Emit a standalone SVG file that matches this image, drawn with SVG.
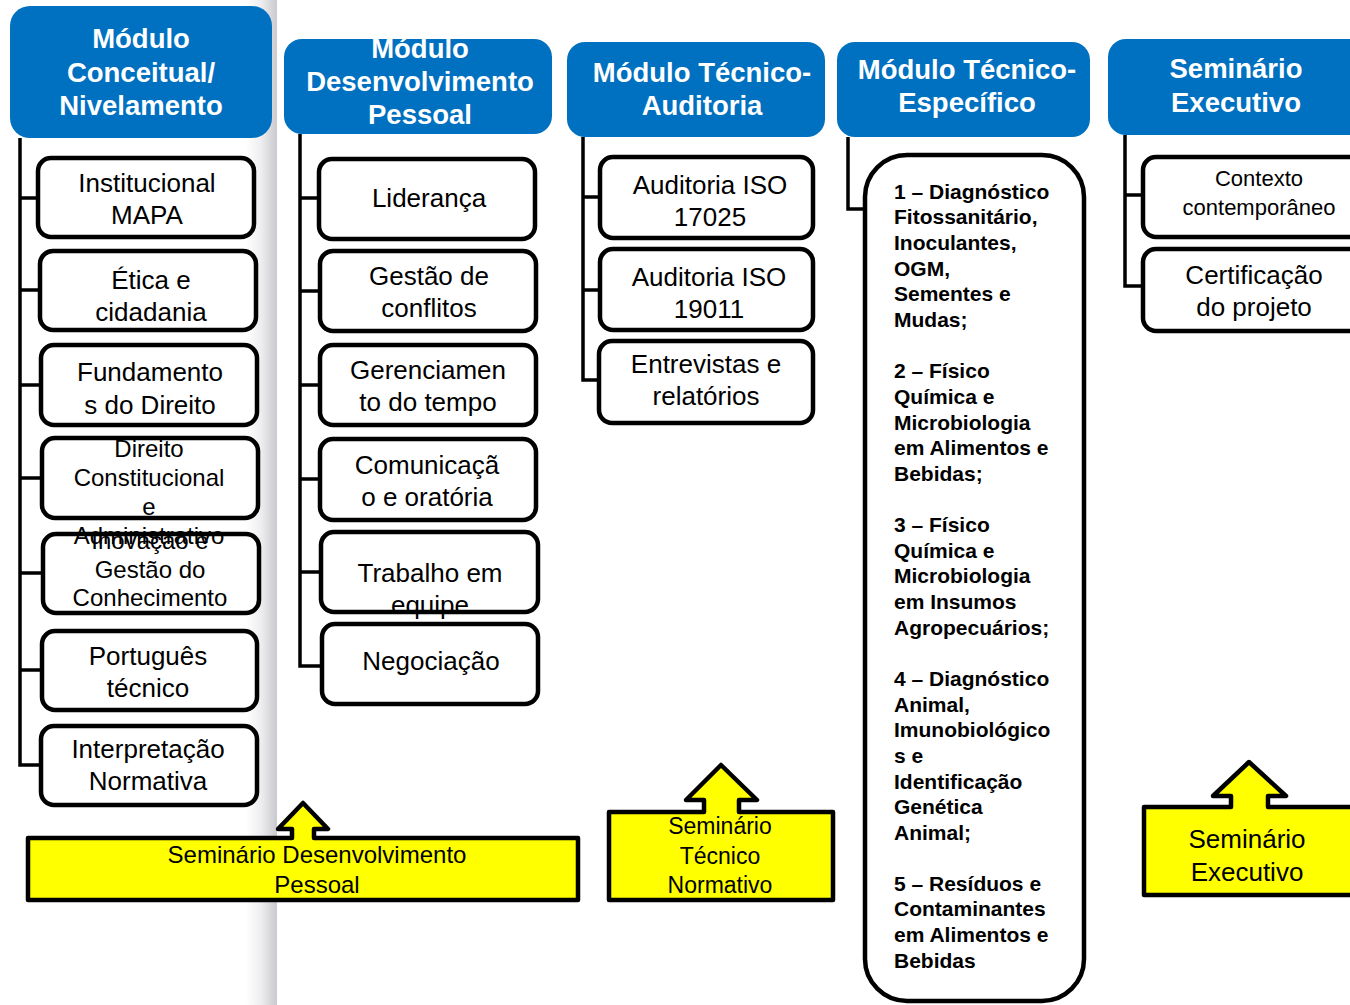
<svg xmlns="http://www.w3.org/2000/svg" width="1350" height="1005" viewBox="0 0 1350 1005">
<defs>
<linearGradient id="strip" x1="0" y1="0" x2="1" y2="0">
<stop offset="0" stop-color="#ffffff"/>
<stop offset="0.5" stop-color="#ededef"/>
<stop offset="1" stop-color="#c9c9ce"/>
</linearGradient>
<style>
.hdr{fill:#0070C0;}
.ht{fill:#ffffff;font-family:"Liberation Sans",Arial,sans-serif;font-weight:bold;font-size:27.5px;text-anchor:middle;}
.box{fill:#ffffff;stroke:#000000;stroke-width:4.5;}
.t{fill:#000000;font-family:"Liberation Sans",Arial,sans-serif;font-size:26px;text-anchor:middle;}
.ts{font-size:24px;}
.tx{font-size:22px;}
.bt{fill:#000000;font-family:"Liberation Sans",Arial,sans-serif;font-weight:bold;font-size:21px;}
.con{fill:none;stroke:#000000;stroke-width:3.5;}
.call{fill:#FFFF00;stroke:#000000;stroke-width:4.5;stroke-linejoin:round;}
.ct{fill:#000000;font-family:"Liberation Sans",Arial,sans-serif;font-size:24px;text-anchor:middle;}
</style>
</defs>
<rect x="0" y="0" width="1350" height="1005" fill="#ffffff"/>
<rect x="246" y="0" width="31" height="1005" fill="url(#strip)"/>

<g id="connectors">
<path class="con" d="M20,138 V765 H41 M20,198 H38 M20,290 H40 M20,385 H41 M20,478 H42 M20,573 H43 M20,670 H42"/>
<path class="con" d="M300,134 V666 H322 M300,198 H319 M300,291 H320 M300,385 H320 M300,479 H320 M300,572 H321"/>
<path class="con" d="M583,137 V380 H599 M583,197 H600 M583,290 H600"/>
<path class="con" d="M848,137 V209 H865"/>
<path class="con" d="M1125,135 V286 H1143 M1125,195 H1143"/>
</g>

<g id="col1-header">
<rect class="hdr" x="10" y="6" width="262" height="132" rx="20"/>
<text class="ht" x="141" y="48">Módulo</text>
<text class="ht" x="141" y="82">Conceitual/</text>
<text class="ht" x="141" y="115">Nivelamento</text>
</g>
<g id="col2-header">
<rect class="hdr" x="284" y="39" width="268" height="95" rx="18"/>
<text class="ht" x="420" y="58">Módulo</text>
<text class="ht" x="420" y="91">Desenvolvimento</text>
<text class="ht" x="420" y="124">Pessoal</text>
</g>
<g id="col3-header">
<rect class="hdr" x="567" y="42" width="258" height="95" rx="18"/>
<text class="ht" x="702" y="82">Módulo Técnico-</text>
<text class="ht" x="702" y="115">Auditoria</text>
</g>
<g id="col4-header">
<rect class="hdr" x="837" y="42" width="253" height="95" rx="18"/>
<text class="ht" x="967" y="79">Módulo Técnico-</text>
<text class="ht" x="967" y="112">Específico</text>
</g>
<g id="col5-header">
<rect class="hdr" x="1108" y="39" width="270" height="96" rx="18"/>
<text class="ht" x="1236" y="78">Seminário</text>
<text class="ht" x="1236" y="112">Executivo</text>
</g>

<g id="col1-boxes">
<rect class="box" x="38" y="158" width="216" height="79" rx="13"/>
<rect class="box" x="40" y="251" width="216" height="79" rx="13"/>
<rect class="box" x="41" y="345" width="216" height="80" rx="13"/>
<rect class="box" x="42" y="438" width="216" height="80" rx="13"/>
<rect class="box" x="43" y="534" width="216" height="79" rx="13"/>
<rect class="box" x="42" y="631" width="215" height="79" rx="13"/>
<rect class="box" x="41" y="726" width="216" height="79" rx="13"/>
</g>
<g id="n-institucional"><text class="t" x="147" y="192">Institucional</text><text class="t" x="147" y="224">MAPA</text></g>
<g id="n-etica"><text class="t" x="151" y="289">Ética e</text><text class="t" x="151" y="321">cidadania</text></g>
<g id="n-fundamentos"><text class="t" x="150" y="381">Fundamento</text><text class="t" x="150" y="414">s do Direito</text></g>
<g id="n-direito"><text class="t ts" x="149" y="457">Direito</text><text class="t ts" x="149" y="486">Constitucional</text><text class="t ts" x="149" y="515">e</text><text class="t ts" x="149" y="544">Administrativo</text></g>
<g id="n-inovacao"><text class="t ts" x="150" y="549">Inovação e</text><text class="t ts" x="150" y="578">Gestão do</text><text class="t ts" x="150" y="606">Conhecimento</text></g>
<g id="n-portugues"><text class="t" x="148" y="665">Português</text><text class="t" x="148" y="697">técnico</text></g>
<g id="n-interpretacao"><text class="t" x="148" y="758">Interpretação</text><text class="t" x="148" y="790">Normativa</text></g>

<g id="col2-boxes">
<rect class="box" x="319" y="159" width="216" height="80" rx="13"/>
<rect class="box" x="320" y="251" width="216" height="80" rx="13"/>
<rect class="box" x="320" y="345" width="216" height="80" rx="13"/>
<rect class="box" x="320" y="439" width="216" height="81" rx="13"/>
<rect class="box" x="321" y="532" width="217" height="80" rx="13"/>
</g>
<g id="n-lideranca"><text class="t" x="429" y="207">Liderança</text></g>
<g id="n-conflitos"><text class="t" x="429" y="285">Gestão de</text><text class="t" x="429" y="317">conflitos</text></g>
<g id="n-tempo"><text class="t" x="428" y="379">Gerenciamen</text><text class="t" x="428" y="411">to do tempo</text></g>
<g id="n-comunicacao"><text class="t" x="427" y="474">Comunicaçã</text><text class="t" x="427" y="506">o e oratória</text></g>
<g id="n-trabalho"><text class="t" x="430" y="582">Trabalho em</text><text class="t" x="430" y="614">equipe</text></g>
<g id="n-negociacao"><rect class="box" x="322" y="624" width="216" height="80" rx="13"/><text class="t" x="431" y="670">Negociação</text></g>

<g id="n-iso17025"><rect class="box" x="600" y="157" width="213" height="81" rx="13"/><text class="t" x="710" y="194">Auditoria ISO</text><text class="t" x="710" y="226">17025</text></g>
<g id="n-iso19011"><rect class="box" x="600" y="249" width="213" height="81" rx="13"/><text class="t" x="709" y="286">Auditoria ISO</text><text class="t" x="709" y="318">19011</text></g>
<g id="n-entrevistas"><rect class="box" x="599" y="341" width="214" height="82" rx="13"/><text class="t" x="706" y="373">Entrevistas e</text><text class="t" x="706" y="405">relatórios</text></g>

<g id="n-especifico">
<rect class="box" x="865" y="155" width="219" height="846" rx="42"/>
<text class="bt" x="894" y="198.5">1 – Diagnóstico</text>
<text class="bt" x="894" y="224">Fitossanitário,</text>
<text class="bt" x="894" y="250">Inoculantes,</text>
<text class="bt" x="894" y="275.5">OGM,</text>
<text class="bt" x="894" y="301">Sementes e</text>
<text class="bt" x="894" y="327">Mudas;</text>
<text class="bt" x="894" y="378">2 – Físico</text>
<text class="bt" x="894" y="404">Química e</text>
<text class="bt" x="894" y="429.5">Microbiologia</text>
<text class="bt" x="894" y="455">em Alimentos e</text>
<text class="bt" x="894" y="481">Bebidas;</text>
<text class="bt" x="894" y="532">3 – Físico</text>
<text class="bt" x="894" y="557.5">Química e</text>
<text class="bt" x="894" y="583">Microbiologia</text>
<text class="bt" x="894" y="609">em Insumos</text>
<text class="bt" x="894" y="634.5">Agropecuários;</text>
<text class="bt" x="894" y="686">4 – Diagnóstico</text>
<text class="bt" x="894" y="711.5">Animal,</text>
<text class="bt" x="894" y="737">Imunobiológico</text>
<text class="bt" x="894" y="763">s e</text>
<text class="bt" x="894" y="788.5">Identificação</text>
<text class="bt" x="894" y="814">Genética</text>
<text class="bt" x="894" y="839.5">Animal;</text>
<text class="bt" x="894" y="891">5 – Resíduos e</text>
<text class="bt" x="894" y="916">Contaminantes</text>
<text class="bt" x="894" y="942">em Alimentos e</text>
<text class="bt" x="894" y="967.5">Bebidas</text>
</g>

<g id="n-contexto"><rect class="box" x="1143" y="157" width="240" height="80" rx="13"/><text class="t tx" x="1259" y="186">Contexto</text><text class="t tx" x="1259" y="215">contemporâneo</text></g>
<g id="n-certificacao"><rect class="box" x="1143" y="249" width="240" height="82" rx="13"/><text class="t" x="1254" y="284">Certificação</text><text class="t" x="1254" y="316">do projeto</text></g>

<g id="s-desenvolvimento">
<path class="call" d="M28,838 H292 V829 H278 L303,803 L328,829 H314 V838 H578 V900 H28 Z"/>
<text class="ct" x="317" y="863">Seminário Desenvolvimento</text>
<text class="ct" x="317" y="893">Pessoal</text>
</g>
<g id="s-tecnico">
<path class="call" d="M609,812 H704 V800 H686 L721,765 L757,800 H739 V812 H833 V900 H609 Z"/>
<text class="ct" x="720" y="834" style="font-size:23px">Seminário</text>
<text class="ct" x="720" y="864" style="font-size:23px">Técnico</text>
<text class="ct" x="720" y="893" style="font-size:23px">Normativo</text>
</g>
<g id="s-executivo">
<path class="call" d="M1144,807 H1231 V796 H1213 L1249,762 L1286,796 H1268 V807 H1365 V895 H1144 Z"/>
<text class="ct" x="1247" y="848" style="font-size:26px">Seminário</text>
<text class="ct" x="1247" y="881" style="font-size:26px">Executivo</text>
</g>
</svg>
